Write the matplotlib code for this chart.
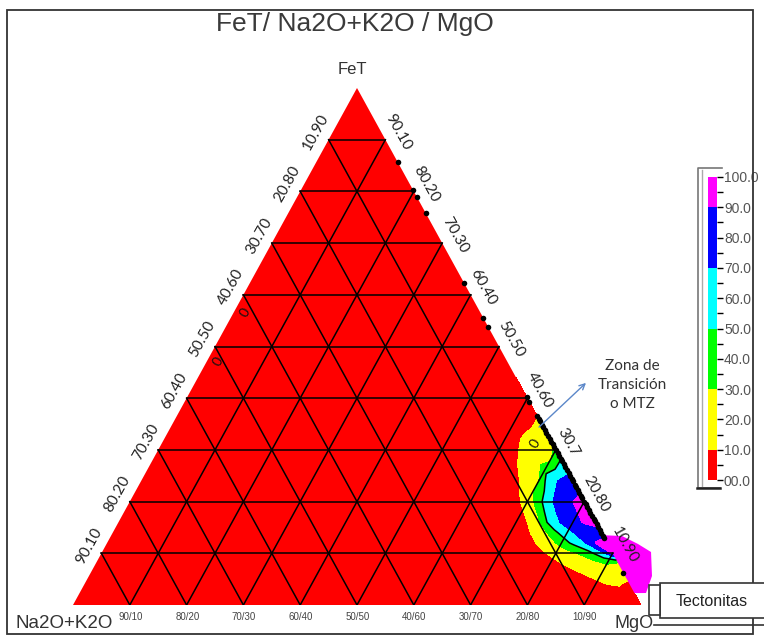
import numpy as np
import matplotlib
matplotlib.use("Agg")
import matplotlib as mpl
import matplotlib.pyplot as plt
from matplotlib.colors import ListedColormap, BoundaryNorm
from matplotlib.patches import Polygon, Rectangle

plt.rcParams['font.family'] = ['Liberation Sans', 'DejaVu Sans']

title = 'FeT/ Na2O+K2O / MgO'
corner_labels = ['FeT', 'Na2O+K2O', 'MgO']

grid_steps = [0.1, 0.2, 0.3, 0.4, 0.5, 0.6, 0.7, 0.8, 0.9]
# left edge (FeT = step), right edge (FeT = step), base (MgO = step)
left_labels = ['90.10', '80.20', '70.30', '60.40', '50.50', '40.60', '30.70', '20.80', '10.90']
right_labels = ['10.90', '20.80', '30.7', '40.60', '50.50', '60.40', '70.30', '80.20', '90.10']
base_labels = ['90/10', '80/20', '70/30', '60/40', '50/50', '40/60', '30/70', '20/80', '10/90']

# contoured density: rows = FeT, cols = Na2O+K2O
fet_rows = [0.00, 0.04, 0.08, 0.10, 0.12, 0.14, 0.16, 0.20, 0.24, 0.28, 0.32, 0.36, 0.40, 0.44]
na_cols = [0.00, 0.02, 0.04, 0.06, 0.08, 0.10, 0.12, 0.14, 0.16]
density = [
    [0, 0, 0, 0, 0, 0, 0, 0, 0],
    [7, 11, 10, 6, 3, 2, 0, 0, 0],
    [25, 31, 25, 19, 14, 10, 5, 2, 0],
    [94, 62, 42, 31, 24, 16, 9, 3, 0],
    [97, 91, 68, 52, 38, 22, 12, 4, 0],
    [82, 80, 76, 62, 45, 26, 12, 4, 0],
    [97, 92, 82, 72, 56, 27, 10, 3, 0],
    [96, 90, 79, 67, 40, 18, 5, 0, 0],
    [80, 74, 62, 30, 17, 7, 2, 0, 0],
    [50, 28, 22, 15, 9, 4, 0, 0, 0],
    [20, 17, 13, 8, 3, 0, 0, 0, 0],
    [11, 5, 2, 0, 0, 0, 0, 0, 0],
    [4, 1, 0, 0, 0, 0, 0, 0, 0],
    [0, 0, 0, 0, 0, 0, 0, 0, 0],
]

# magenta patch spilling past the FeT-MgO side (FeT, Na2O+K2O)
spill_fet = [0.135, 0.1335, 0.118, 0.1025, 0.0561, 0.0232, 0.023]
spill_na = [0.0, -0.0333, -0.0537, -0.0689, -0.0474, -0.0204, 0.0]

# samples lying on the FeT-MgO side
edge_fet = [0.857, 0.803, 0.789, 0.758, 0.623, 0.555, 0.538, 0.402, 0.393,
            0.365, 0.360, 0.355, 0.349, 0.344, 0.338, 0.333, 0.327, 0.322,
            0.316, 0.311, 0.305, 0.300, 0.294, 0.289, 0.283, 0.278, 0.272,
            0.266, 0.261, 0.255, 0.250, 0.244, 0.239, 0.233, 0.228, 0.222,
            0.217, 0.211, 0.206, 0.200, 0.195, 0.189, 0.184, 0.178, 0.173,
            0.167, 0.162, 0.156, 0.151, 0.145, 0.140, 0.134, 0.129, 0.062]

# contour labels "0" (FeT, MgO)
zero_fet = [0.565, 0.470, 0.313]
zero_mgo = [0.020, 0.020, 0.657]

levels = [0, 5, 10, 15, 20, 25, 30, 35, 40, 45, 50, 55, 60, 65, 70, 75, 80, 85, 90, 95, 100]
cbar_ticks = [0, 10, 20, 30, 40, 50, 60, 70, 80, 90, 100]
cbar_labels = ['00.0', '10.0', '20.0', '30.0', '40.0', '50.0', '60.0', '70.0', '80.0', '90.0', '100.0']
band_colors = (['#ff0000'] * 2 + ['#ffff00'] * 4 + ['#00ff00'] * 4 +
               ['#00ffff'] * 4 + ['#0000ff'] * 4 + ['#ff00ff'] * 2)


def to_xy(fet, mgo):
    fet = np.asarray(fet, float)
    mgo = np.asarray(mgo, float)
    return mgo + fet / 2, fet


W, H = 764, 637
fig = plt.figure(figsize=(W / 100, H / 100), dpi=100)
ax = fig.add_axes([73 / W, 1 - 605 / H, 568 / W, 517 / H])
ax.set_xlim(0, 1)
ax.set_ylim(0, 1)
ax.axis('off')

cmap = ListedColormap(band_colors)
norm = BoundaryNorm(levels, cmap.N)

ax.add_patch(Polygon([[0, 0], [1, 0], [0.5, 1]], closed=True, fc=band_colors[0], ec='none', zorder=1))

FE, NA = np.meshgrid(fet_rows, na_cols, indexing='ij')
X, Y = to_xy(FE, 1 - FE - NA)
Z = np.array(density, float)
ax.contourf(X, Y, Z, levels=levels, cmap=cmap, norm=norm, zorder=2)
ax.contour(X, Y, Z, levels=[48], colors='k', linewidths=1.1, zorder=3)

sx, sy = to_xy(spill_fet, 1 - np.array(spill_fet) - np.array(spill_na))
ax.add_patch(Polygon(np.column_stack([sx, sy]), closed=True, fc='#ff00ff', ec='none',
                     zorder=2, clip_on=False))

# grid
for t in grid_steps:
    for a, b in [((t, 0), (t, 1 - t)), ((0, t), (1 - t, t)), ((0, 1 - t), (1 - t, 0))]:
        x0, y0 = to_xy(*a)
        x1, y1 = to_xy(*b)
        ax.plot([x0, x1], [y0, y1], color='k', lw=1.1, zorder=4)

ex, ey = to_xy(edge_fet, 1 - np.array(edge_fet))
ax.scatter(ex, ey, s=16, color='k', marker='o', lw=0, zorder=5, clip_on=False)

lab_font = ['Lato', 'DejaVu Sans']
for t, lab in zip(grid_steps, left_labels):
    ax.annotate(lab, to_xy(t, 0), xytext=(-9, 5.5), textcoords='offset points',
                ha='center', va='center', rotation=61, fontsize=11,
                family=lab_font, color='#222')
for t, lab in zip(grid_steps, right_labels):
    ax.annotate(lab, to_xy(t, 1 - t), xytext=(9, 5.5), textcoords='offset points',
                ha='center', va='center', rotation=-61, fontsize=11,
                family=lab_font, color='#222')
for t, lab in zip(grid_steps, base_labels):
    ax.annotate(lab, to_xy(0, t), xytext=(0.5, -9), textcoords='offset points',
                ha='center', va='center', fontsize=7, color='#444')

for f, m in zip(zero_fet, zero_mgo):
    ax.text(*to_xy(f, m), '0', rotation=60, fontsize=10, ha='center', va='center',
            family=lab_font, color='#111', zorder=6)

ax.annotate(corner_labels[0], (0.5, 1), xytext=(-3.5, 13), textcoords='offset points',
            ha='center', va='center', fontsize=12, color='#333')
ax.annotate(corner_labels[1], (0, 0), xytext=(-6, -13), textcoords='offset points',
            ha='center', va='center', fontsize=13.5, color='#333')
ax.annotate(corner_labels[2], (1, 0), xytext=(-5, -13), textcoords='offset points',
            ha='center', va='center', fontsize=13, color='#333')

# colour scale
cax = fig.add_axes([708 / W, 1 - 480 / H, 9 / W, 303 / H])
cb = fig.colorbar(mpl.cm.ScalarMappable(norm=norm, cmap=cmap), cax=cax, ticks=cbar_ticks)
cb.outline.set_visible(False)
cb.ax.set_yticklabels(cbar_labels)
cb.ax.set_yticks(levels, minor=True)
cb.ax.tick_params(which='both', right=True, length=4, width=1, color='k',
                  labelsize=10, labelcolor='#555', pad=1)

# overlay in pixel units for the frame and notes
ov = fig.add_axes([0, 0, 1, 1])
ov.set_xlim(0, W)
ov.set_ylim(H, 0)
ov.axis('off')
ov.patch.set_alpha(0)

ov.add_patch(Rectangle((7, 10), 746, 624, fill=False, ec='#333', lw=1.3))
ov.text(355, 24, title, fontsize=19, ha='center', va='center', color='#3a3a3a')

ov.plot([722, 698, 698, 720], [168, 168, 488, 488], color='#777', lw=1.2)
ov.plot([702, 702], [170, 486], color='#aaa', lw=1)
ov.plot([697, 720], [488, 488], color='#222', lw=1.8)

ov.annotate('', xy=(588, 381), xytext=(537, 429),
            arrowprops=dict(arrowstyle='->', color='#5b87c9', lw=1.0))
ov.text(632, 385, 'Zona de\nTransición\no MTZ', ha='center', va='center', fontsize=11,
        family=lab_font, linespacing=1.45, color='#333')

ov.add_patch(Rectangle((660, 583), 110, 35, fc='white', ec='#333', lw=1.2, clip_on=False))
ov.add_patch(Rectangle((649, 585), 11, 30, fc='white', ec='#333', lw=1.2))
ov.plot([654, 764], [625, 625], color='#333', lw=1.2)
ov.text(712, 601, 'Tectonitas', fontsize=11.5, ha='center', va='center', color='#222')

fig.savefig('out.png', dpi=100)
